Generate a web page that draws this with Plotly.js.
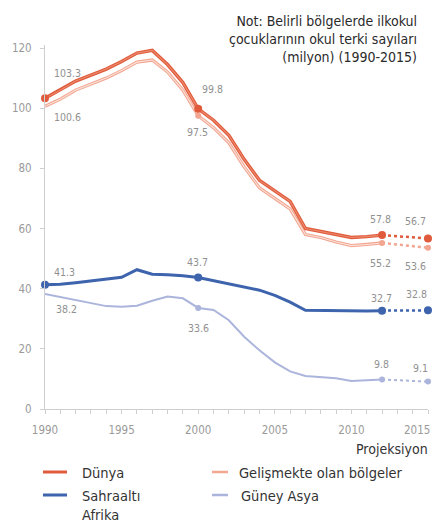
<!DOCTYPE html>
<html>
<head>
<meta charset="utf-8">
<script src="https://cdn.plot.ly/plotly-3.0.1.min.js"></script>
<style>html,body{margin:0;padding:0;background:#fff;}#chart{width:441px;height:529px;}</style>
</head>
<body>
<div id="chart"></div>
<script>
// ---- data (million out-of-school primary-age children) ----
const years = [1990,1991,1992,1993,1994,1995,1996,1997,1998,1999,2000,2001,2002,2003,2004,2005,2006,2007,2008,2009,2010,2011,2012];
const projYears = [2012, 2015];

const dunya  = [103.3,106,109,111,113,115.5,118.3,119.2,114.5,108.5,99.8,96,91,83,76,72.5,69,60,59,58,57,57.3,57.8];
const gelis  = [100.6,103,106,108,110,112.5,115.3,116,112,106,97.5,93.5,88.5,80.5,73.5,70,66.5,58,57,55.5,54.3,54.7,55.2];
const sahra  = [41.3,41.5,42,42.6,43.2,43.8,46.3,44.8,44.6,44.3,43.7,42.6,41.5,40.5,39.5,37.8,35.5,32.8,32.7,32.6,32.5,32.6,32.7];
const guney  = [38.2,37.2,36,35,34.2,34,34.3,36,37.4,36.8,33.6,32.9,29.5,24,19.5,15.5,12.5,11,10.7,10.2,9.3,9.6,9.8];

const dunyaProj = [57.8, 56.7];
const gelisProj = [55.2, 53.6];
const sahraProj = [32.7, 32.8];
const guneyProj = [9.8, 9.1];

const seriesNames = ["Dünya", "Gelişmekte olan bölgeler", "Sahraaltı<br>Afrika", "Güney Asya"];
const yTicks = [0, 20, 40, 60, 80, 100, 120];
const xLabelYears = [1990, 1995, 2000, 2005, 2010, 2015];

// ---- styles ----
const FONT = '"Liberation Sans Narrow", "DejaVu Sans Condensed", "Roboto", sans-serif';
const C = {
  dunya: '#e05b3b', dunyaIn: '#ec8a6e',
  gelis: '#f2a590', gelisIn: '#fbe1d8',
  sahra: '#3d64ad', guney: '#abb5dc'
};

const traces = [];
function addSeries(vals, proj, color, width, inner, markIdx, msize) {
  traces.push({x: years, y: vals, type: 'scatter', mode: 'lines',
    line: {color: color, width: width}, hoverinfo: 'skip', showlegend: false});
  if (inner) traces.push({x: years, y: vals, type: 'scatter', mode: 'lines',
    line: {color: inner, width: 1.1}, hoverinfo: 'skip', showlegend: false});
  traces.push({x: projYears, y: proj, type: 'scatter', mode: 'lines',
    line: {color: color, width: Math.min(width, 2.5), dash: '3px,3px'}, hoverinfo: 'skip', showlegend: false});
  const mx = markIdx.map(i => years[i]).concat([projYears[1]]);
  const my = markIdx.map(i => vals[i]).concat([proj[1]]);
  traces.push({x: mx, y: my, type: 'scatter', mode: 'markers', cliponaxis: false,
    marker: {color: color, size: msize}, hoverinfo: 'skip', showlegend: false});
}
addSeries(guney, guneyProj, C.guney, 2, null, [10, 22], 6);
addSeries(gelis, gelisProj, C.gelis, 3.2, C.gelisIn, [10, 22], 6);
addSeries(sahra, sahraProj, C.sahra, 3, null, [0, 10, 22], 8);
addSeries(dunya, dunyaProj, C.dunya, 3.4, C.dunyaIn, [0, 10, 22], 8);

// value labels
const lblFont = {family: FONT, size: 10.5, color: '#919191'};
function lbl(x, y, dx, dy) {
  return {x: x, y: y, xref: 'x', yref: 'y', text: y.toFixed(1), showarrow: false,
    xshift: dx, yshift: dy, font: lblFont};
}
const annotations = [
  lbl(1990, dunya[0], 22, 25), lbl(1990, gelis[0], 22, -11),
  lbl(2000, dunya[10], 14, 20), lbl(2000, gelis[10], -1, -16),
  lbl(1990, sahra[0], 19, 13), lbl(1990, guney[0], 21, -15),
  lbl(2000, sahra[10], -1, 16), lbl(2000, guney[10], 0, -20),
  lbl(2012, dunyaProj[0], -2, 16), lbl(2015, dunyaProj[1], -13, 17),
  lbl(2012, gelisProj[0], -2, -20), lbl(2015, gelisProj[1], -13, -18),
  lbl(2012, sahraProj[0], -1, 13), lbl(2015, sahraProj[1], -12, 16),
  lbl(2012, guneyProj[0], -1, 16), lbl(2015, guneyProj[1], -8, 14)
];

// 2015 tick label (shifted inward as in the original)
annotations.push({x: 2015, y: 0, xref: 'x', yref: 'y', text: '2015', showarrow: false,
  xshift: -11, yshift: -21, font: {family: FONT, size: 11.5, color: '#9a9a9a'}});

const L = 45, R = 13, T = 45, B = 120, W = 441, H = 529;
const pw = W - L - R, ph = H - T - B;
const px2x = v => (v - L) / pw;
const px2y = v => (H - v - B) / ph;

// Projeksiyon note
annotations.push({x: px2x(430), y: px2y(449), xref: 'paper', yref: 'paper', text: 'Projeksiyon', showarrow: false,
  xanchor: 'right', yanchor: 'middle', font: {family: FONT, size: 14, color: '#333'}});

// manual legend
const legendPos = [
  {tx: 80, ty: 472, lx0: 43, lx1: 67, color: C.dunya, w: 3},
  {tx: 237, ty: 472, lx0: 212, lx1: 228, color: C.gelis, w: 2.5},
  {tx: 80, ty: 495, lx0: 43, lx1: 67, color: C.sahra, w: 3},
  {tx: 239, ty: 495, lx0: 212, lx1: 228, color: C.guney, w: 2.5}
];
const shapes = [];
legendPos.forEach((p, i) => {
  annotations.push({x: px2x(p.tx), y: px2y(p.ty), xref: 'paper', yref: 'paper', text: seriesNames[i], showarrow: false,
    xanchor: 'left', yanchor: 'top', align: 'left', yshift: 9,
    font: {family: FONT, size: 14.5, color: '#333'}});
  shapes.push({type: 'line', xref: 'paper', yref: 'paper', x0: px2x(p.lx0), x1: px2x(p.lx1),
    y0: px2y(p.ty), y1: px2y(p.ty), line: {color: p.color, width: p.w}});
});

const layout = {
  width: W, height: H,
  margin: {l: L, r: R, t: T, b: B, pad: 0},
  paper_bgcolor: '#fff', plot_bgcolor: '#fff',
  font: {family: FONT},
  showlegend: false,
  title: {text: 'Not: Belirli bölgelerde ilkokul<br>çocuklarının okul terki sayıları<br>(milyon) (1990-2015)',
    x: 417 / W, xref: 'container', xanchor: 'right', y: 1 - 26 / H, yref: 'container', yanchor: 'middle',
    font: {family: FONT, size: 14, color: '#2a2a2a'}, align: 'right'},
  xaxis: {range: [1990, 2015], tickvals: years.concat([2013, 2014, 2015]),
    ticktext: years.concat([2013, 2014, 2015]).map(y => (xLabelYears.includes(y) && y !== 2015) ? String(y) : ''),
    ticks: 'outside', ticklen: 4, tickcolor: '#cfcfcf', showline: true, linecolor: '#cfcfcf', linewidth: 1,
    showgrid: false, zeroline: false, ticklabelstandoff: 6,
    tickfont: {family: FONT, size: 11.5, color: '#9a9a9a'}, fixedrange: true},
  yaxis: {range: [0, 121], tickvals: yTicks, ticks: 'outside', ticklen: 4, tickcolor: '#cfcfcf',
    showline: true, linecolor: '#cfcfcf', linewidth: 1, showgrid: false, zeroline: false,
    ticklabelstandoff: 6, tickfont: {family: FONT, size: 11.5, color: '#9a9a9a'}, fixedrange: true},
  annotations: annotations,
  shapes: shapes
};

Plotly.newPlot('chart', traces, layout, {displayModeBar: false, staticPlot: true});
</script>
</body>
</html>
